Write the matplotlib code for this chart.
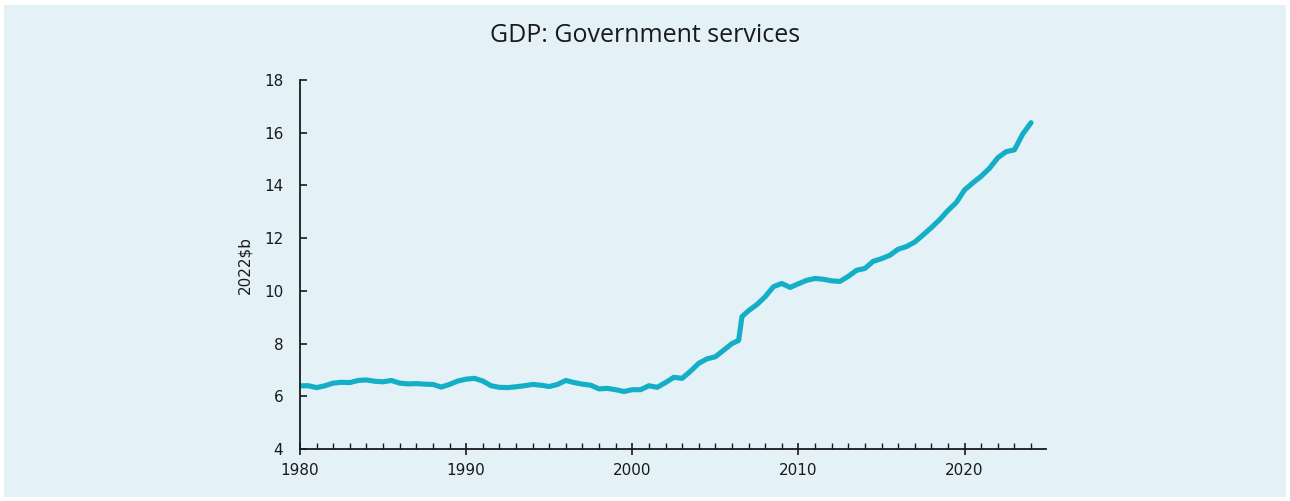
import matplotlib
matplotlib.use("Agg")
import matplotlib.pyplot as plt
from matplotlib.patches import Rectangle
from matplotlib.ticker import MultipleLocator

plt.rcParams["font.family"] = ["DejaVu Sans"]

# Real GDP, government services (2022 $b), half-yearly readings
years = [
    1980.0, 1980.5, 1981.0, 1981.5, 1982.0, 1982.5, 1983.0, 1983.5, 1984.0, 1984.5,
    1985.0, 1985.5, 1986.0, 1986.5, 1987.0, 1987.5, 1988.0, 1988.5, 1989.0, 1989.5,
    1990.0, 1990.5, 1991.0, 1991.5, 1992.0, 1992.5, 1993.0, 1993.5, 1994.0, 1994.5,
    1995.0, 1995.5, 1996.0, 1996.5, 1997.0, 1997.5, 1998.0, 1998.5, 1999.0, 1999.5,
    2000.0, 2000.5, 2001.0, 2001.5, 2002.0, 2002.5, 2003.0, 2003.5, 2004.0, 2004.5,
    2005.0, 2005.5, 2006.0, 2006.4, 2006.6, 2007.0, 2007.5, 2008.0, 2008.5, 2009.0,
    2009.5, 2010.0, 2010.5, 2011.0, 2011.5, 2012.0, 2012.5, 2013.0, 2013.5, 2014.0,
    2014.5, 2015.0, 2015.5, 2016.0, 2016.5, 2017.0, 2017.5, 2018.0, 2018.5, 2019.0,
    2019.5, 2020.0, 2020.5, 2021.0, 2021.5, 2022.0, 2022.5, 2023.0, 2023.5, 2024.0,
]
gdp_gov = [
    6.40, 6.40, 6.33, 6.40, 6.50, 6.53, 6.52, 6.60, 6.62, 6.57,
    6.55, 6.60, 6.50, 6.47, 6.48, 6.46, 6.45, 6.35, 6.45, 6.58,
    6.65, 6.68, 6.58, 6.40, 6.34, 6.33, 6.36, 6.40, 6.45, 6.42,
    6.37, 6.45, 6.60, 6.52, 6.46, 6.42, 6.28, 6.30, 6.25, 6.18,
    6.25, 6.25, 6.40, 6.34, 6.52, 6.72, 6.68, 6.95, 7.25, 7.42,
    7.50, 7.75, 8.00, 8.12, 9.02, 9.25, 9.48, 9.78, 10.16, 10.28,
    10.13, 10.27, 10.40, 10.47, 10.44, 10.38, 10.36, 10.55, 10.78, 10.85,
    11.12, 11.22, 11.35, 11.58, 11.68, 11.85, 12.12, 12.40, 12.70, 13.05,
    13.35, 13.83, 14.10, 14.35, 14.65, 15.05, 15.28, 15.35, 15.95, 16.38,
]
x_ticks = [1980, 1990, 2000, 2010, 2020]
y_ticks = [4, 6, 8, 10, 12, 14, 16, 18]

BG = "#e4f2f7"
LINE = "#14afc7"
INK = "#1a1a1a"

fig = plt.figure(figsize=(12.9, 5.01), dpi=100, facecolor="white")
fig.patches.append(Rectangle((4 / 1290, 4 / 501), 1 - 8 / 1290, 1 - 9 / 501,
                             transform=fig.transFigure, facecolor=BG,
                             edgecolor="none", zorder=-10))

ax = fig.add_axes([300 / 1290, 1 - 449 / 501, (1046 - 300) / 1290, (449 - 80) / 501])
ax.set_facecolor(BG)
ax.plot(years, gdp_gov, color=LINE, linewidth=3.7, solid_capstyle="round",
        solid_joinstyle="round")

ax.set_xlim(1980, 2024.9)
ax.set_ylim(4, 18)
ax.set_xticks(x_ticks)
ax.set_yticks(y_ticks)
ax.xaxis.set_minor_locator(MultipleLocator(1))

for s in ("top", "right"):
    ax.spines[s].set_visible(False)
for s in ("left", "bottom"):
    ax.spines[s].set_linewidth(1.3)
    ax.spines[s].set_color(INK)

ax.tick_params(axis="y", direction="in", length=5, width=1.2, labelsize=11,
               pad=12, colors=INK)
ax.tick_params(axis="x", which="major", direction="inout", length=8, width=1.2,
               labelsize=11, pad=6, colors=INK)
ax.tick_params(axis="x", which="minor", direction="in", length=4, width=1.0,
               colors=INK)

ax.set_ylabel("2022$b", fontsize=11, color=INK, labelpad=8)
fig.text(0.5, 1 - 35 / 501, "GDP: Government services", ha="center", va="center",
         fontsize=18, family="Open Sans", color=INK)

fig.savefig("out.png", dpi=100, facecolor=fig.get_facecolor())
